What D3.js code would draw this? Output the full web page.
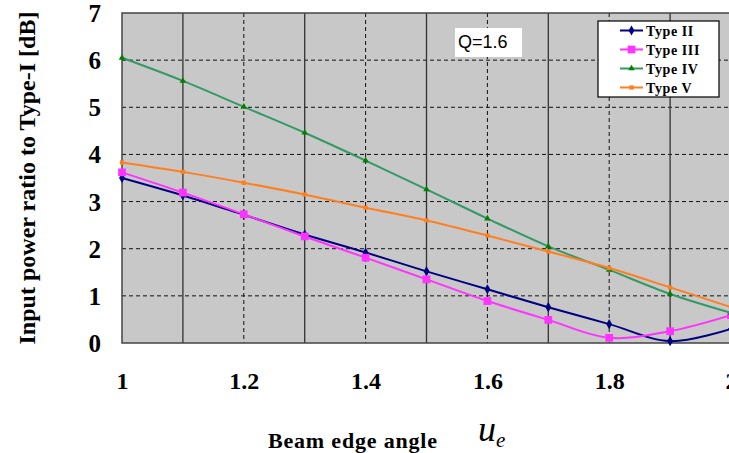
<!DOCTYPE html>
<html>
<head>
<meta charset="utf-8">
<script src="https://cdn.jsdelivr.net/npm/d3@7"></script>
<style>
  body { margin: 0; background: #fff; }
  svg { display: block; }
</style>
</head>
<body>
<div id="chart"></div>
<script>
// data
var angles = [1.0, 1.1, 1.2, 1.3, 1.4, 1.5, 1.6, 1.7, 1.8, 1.9, 2.0];
var typeII = [3.50, 3.13, 2.72, 2.30, 1.92, 1.52, 1.14, 0.76, 0.40, 0.04, 0.30];
var typeIII = [3.62, 3.19, 2.73, 2.26, 1.81, 1.35, 0.89, 0.49, 0.11, 0.25, 0.59];
var typeIV = [6.05, 5.56, 5.01, 4.46, 3.87, 3.26, 2.64, 2.05, 1.55, 1.04, 0.64];
var typeV = [3.83, 3.63, 3.40, 3.15, 2.87, 2.60, 2.28, 1.94, 1.59, 1.18, 0.76];
var seriesNames = ["Type II", "Type III", "Type IV", "Type V"];
var xTicks = [1, 1.2, 1.4, 1.6, 1.8, 2];
var yTicks = [0, 1, 2, 3, 4, 5, 6, 7];

var w = 729, h = 453;
var padLeft = 122, padRight = 731, padTop = 13, padBottom = 343;

var lineColor = ["#000080", "#ff33ff", "#339966", "#ff7f1f"];
var markColor = ["#000080", "#ff33ff", "#008000", "#ff7f1f"];
var allSeries = [typeII, typeIII, typeIV, typeV];

var svg = d3.select("#chart").append("svg")
  .attr("width", w)
  .attr("height", h);

var xScale = d3.scaleLinear().domain([1, 2]).range([padLeft, padRight]);
var yScale = d3.scaleLinear().domain([0, 7]).range([padBottom, padTop]);

// plot background
svg.append("rect")
  .attr("x", padLeft).attr("y", padTop)
  .attr("width", padRight - padLeft).attr("height", padBottom - padTop)
  .attr("fill", "#c8c8c8");

// horizontal grid, dashed
svg.append("g")
  .selectAll("line")
  .data(d3.range(1, 7))
  .enter().append("line")
  .attr("x1", padLeft).attr("x2", padRight)
  .attr("y1", function(d) { return yScale(d); })
  .attr("y2", function(d) { return yScale(d); })
  .attr("stroke", "#111")
  .attr("stroke-width", 1)
  .attr("stroke-dasharray", "4,3");

// vertical grid: solid at odd tenths, dashed at major ticks
var vLines = [1.1, 1.2, 1.3, 1.4, 1.5, 1.6, 1.7, 1.8, 1.9];
svg.append("g")
  .selectAll("line")
  .data(vLines)
  .enter().append("line")
  .attr("x1", function(d) { return xScale(d); })
  .attr("x2", function(d) { return xScale(d); })
  .attr("y1", padTop).attr("y2", padBottom)
  .attr("stroke", function(d, i) { return i % 2 == 0 ? "#333" : "#111"; })
  .attr("stroke-width", function(d, i) { return i % 2 == 0 ? 1.3 : 1; })
  .attr("stroke-dasharray", function(d, i) { return i % 2 == 0 ? null : "4,3"; });

// plot border
svg.append("rect")
  .attr("x", padLeft).attr("y", padTop)
  .attr("width", padRight - padLeft).attr("height", padBottom - padTop)
  .attr("fill", "none")
  .attr("stroke", "#444")
  .attr("stroke-width", 1.5);

// axes (labels only)
var xAxis = d3.axisBottom(xScale)
  .tickValues(xTicks)
  .tickSize(0)
  .tickPadding(29)
  .tickFormat(function(d) { return String(d); });
var xBar = svg.append("g")
  .attr("transform", "translate(0," + padBottom + ")")
  .call(xAxis);
xBar.select(".domain").remove();
xBar.selectAll("text")
  .attr("font-family", "'Liberation Serif', 'Times New Roman', serif")
  .attr("font-weight", "bold")
  .attr("font-size", 24)
  .attr("fill", "#000");

var yAxis = d3.axisLeft(yScale)
  .tickValues(yTicks)
  .tickSize(0)
  .tickPadding(21)
  .tickFormat(d3.format("d"));
var yBar = svg.append("g")
  .attr("transform", "translate(" + padLeft + ",0)")
  .call(yAxis);
yBar.select(".domain").remove();
yBar.selectAll("text")
  .attr("font-family", "'Liberation Serif', 'Times New Roman', serif")
  .attr("font-weight", "bold")
  .attr("font-size", 25)
  .attr("dy", "0.34em")
  .attr("fill", "#000");

// series
var line = d3.line()
  .x(function(d, i) { return xScale(angles[i]); })
  .y(function(d) { return yScale(d); })
  .curve(d3.curveCatmullRom.alpha(0.5));

var symbols = [
  d3.symbol().type(d3.symbolDiamond).size(30),
  d3.symbol().type(d3.symbolSquare).size(60),
  d3.symbol().type(d3.symbolTriangle).size(18),
  d3.symbol().type(d3.symbolSquare).size(18)
];

allSeries.forEach(function(arr, k) {
  var g = svg.append("g");
  g.append("path")
    .attr("d", line(arr))
    .attr("fill", "none")
    .attr("stroke", lineColor[k])
    .attr("stroke-width", 2);
  g.selectAll("path.mark")
    .data(arr)
    .enter().append("path")
    .attr("class", "mark")
    .attr("d", symbols[k])
    .attr("transform", function(d, i) {
      return "translate(" + xScale(angles[i]) + "," + yScale(d) + ")";
    })
    .attr("fill", markColor[k]);
});

// Q label
svg.append("rect")
  .attr("x", 455).attr("y", 28)
  .attr("width", 67).attr("height", 29)
  .attr("fill", "#fff");
svg.append("text")
  .attr("x", 458).attr("y", 48)
  .attr("font-family", "'Liberation Sans', Arial, sans-serif")
  .attr("font-size", 18)
  .text("Q=1.6");

// legend
var legend = svg.append("g").attr("transform", "translate(598,21)");
legend.append("rect")
  .attr("width", 121).attr("height", 76)
  .attr("fill", "#fff")
  .attr("stroke", "#000")
  .attr("stroke-width", 1.2);
seriesNames.forEach(function(name, k) {
  var yy = 9.5 + k * 19;
  legend.append("line")
    .attr("x1", 22).attr("x2", 45)
    .attr("y1", yy).attr("y2", yy)
    .attr("stroke", lineColor[k])
    .attr("stroke-width", 2);
  legend.append("path")
    .attr("d", symbols[k])
    .attr("transform", "translate(33.5," + yy + ")")
    .attr("fill", markColor[k]);
  legend.append("text")
    .attr("x", 48).attr("y", yy + 5)
    .attr("font-family", "'Liberation Serif', 'Times New Roman', serif")
    .attr("font-weight", "bold")
    .attr("font-size", 14)
    .attr("letter-spacing", 0.6)
    .text(name);
});

// axis titles
svg.append("text")
  .attr("transform", "translate(35,178) rotate(-90)")
  .attr("text-anchor", "middle")
  .attr("font-family", "'Liberation Serif', 'Times New Roman', serif")
  .attr("font-weight", "bold")
  .attr("font-size", 24)
  .attr("textLength", 333)
  .text("Input power ratio to Type-I [dB]");

svg.append("text")
  .attr("x", 268).attr("y", 448)
  .attr("font-family", "'Liberation Serif', 'Times New Roman', serif")
  .attr("font-weight", "bold")
  .attr("font-size", 22)
  .attr("textLength", 169)
  .text("Beam edge angle");

var ue = svg.append("text")
  .attr("x", 478).attr("y", 441)
  .attr("font-family", "'Liberation Serif', 'Times New Roman', serif")
  .attr("font-style", "italic")
  .attr("font-size", 36);
ue.append("tspan").text("u");
ue.append("tspan")
  .attr("font-size", 21)
  .attr("dy", 6)
  .text("e");
</script>
</body>
</html>
